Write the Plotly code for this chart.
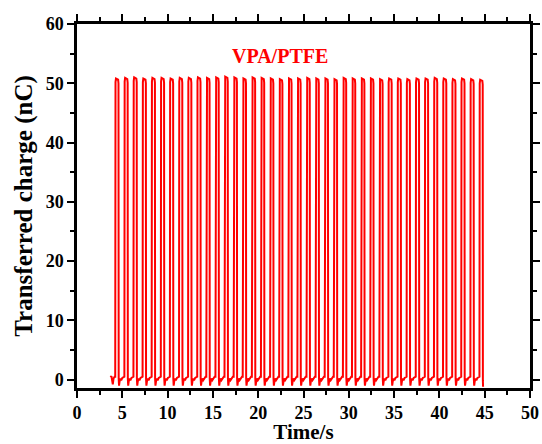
import plotly.graph_objects as go

# Pulse rise times (s)
rise_times = [4.22, 5.23, 6.23, 7.24, 8.24, 9.25, 10.25, 11.26, 12.26, 13.27,
              14.27, 15.28, 16.28, 17.29, 18.29, 19.30, 20.30, 21.31, 22.31, 23.32,
              24.32, 25.33, 26.33, 27.34, 28.34, 29.35, 30.35, 31.36, 32.36, 33.37,
              34.37, 35.38, 36.38, 37.39, 38.39, 39.40, 40.40, 41.41, 42.41, 43.42,
              44.42]
# Peak transferred charge (nC) of each pulse
peaks = [50.8, 50.9, 51.0, 50.8, 50.9, 50.9, 50.8, 50.9, 50.9, 51.0,
         50.9, 51.0, 51.1, 51.0, 50.8, 51.0, 50.9, 50.8, 50.7, 50.8,
         50.8, 50.9, 50.8, 50.8, 50.7, 50.9, 50.8, 50.8, 50.8, 50.7,
         50.8, 50.8, 50.7, 50.8, 50.8, 50.9, 50.8, 50.7, 50.8, 50.7,
         50.6]
# Baseline wiggle between pulses: (offset after rise in s, charge nC)
base_shape = [(0.38, 0.2), (0.42, -1.0), (0.48, -0.3), (0.56, 0.2),
              (0.66, -0.1), (0.78, 0.3), (0.92, 0.5)]
start_time = 3.70
end_time = 44.80
tick_vals_x = [0, 5, 10, 15, 20, 25, 30, 35, 40, 45, 50]
tick_vals_y = [0, 10, 20, 30, 40, 50, 60]
label_text = "VPA/PTFE"

t = [start_time, start_time + 0.1, start_time + 0.25, start_time + 0.33, start_time + 0.45]
q = [0.4, 0.6, -0.8, 0.2, 0.5]
for i, (r, p) in enumerate(zip(rise_times, peaks)):
    t += [r, r + 0.03, r + 0.08, r + 0.32, r + 0.36]
    q += [0.5, p - 0.6, p, p - 0.2, p - 0.8]
    if i < len(rise_times) - 1:
        for dt, v in base_shape:
            t.append(r + dt)
            q.append(v)
    else:
        t += [r + 0.38, r + 0.40]
        q += [-0.2, -1.2]

font_fam = "Liberation Serif, Times New Roman, serif"
fig = go.Figure()
fig.add_trace(go.Scatter(x=t, y=q, mode="lines",
                         line=dict(color="#ff0000", width=2), showlegend=False))
fig.add_annotation(x=22.4, y=54.6, xref="x", yref="y", text="<b>%s</b>" % label_text,
                   showarrow=False, font=dict(family=font_fam, size=20, color="#ff0000"))

axis_common = dict(showline=True, linecolor="black", linewidth=2.5, mirror="ticks",
                   ticks="outside", ticklen=7, tickwidth=2, tickcolor="black",
                   showgrid=False, zeroline=False, automargin=False,
                   tickfont=dict(family=font_fam, size=18, color="black", weight="bold"))
fig.update_xaxes(range=[0, 50], tickvals=tick_vals_x,
                 minor=dict(ticks="outside", ticklen=4, tickwidth=2, dtick=2.5, tick0=0),
                 title=dict(text="<b>Time/s</b>", font=dict(family=font_fam, size=21, color="black"),
                            standoff=0),
                 **axis_common)
fig.update_yaxes(range=[-1.4, 60], tickvals=tick_vals_y,
                 minor=dict(ticks="outside", ticklen=4, tickwidth=2, dtick=5, tick0=0),
                 title=dict(text="<b>Transferred charge (nC)</b>",
                            font=dict(family=font_fam, size=25, color="black"), standoff=6),
                 **axis_common)
fig.update_layout(width=542, height=444, margin=dict(l=77, r=12, t=24, b=56),
                  plot_bgcolor="white", paper_bgcolor="white")
fig.write_html("out.html")
